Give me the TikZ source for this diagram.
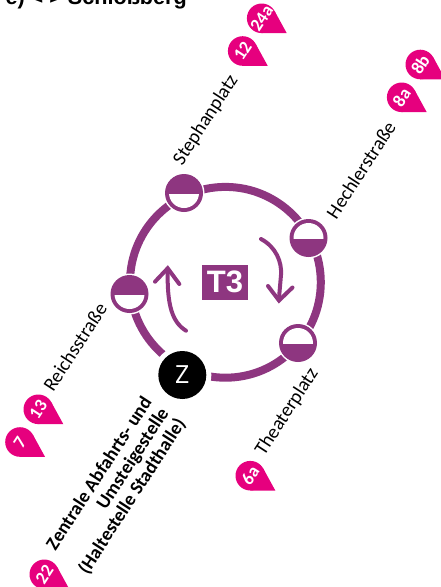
\documentclass[tikz,border=0pt]{standalone}
\usepackage{fontspec}
\setmainfont{Carlito}
\newfontfamily\heavyfont{Liberation Sans}
\newfontfamily\zfont{Open Sans}
\definecolor{linepurple}{HTML}{8E3680}
\definecolor{pinpink}{HTML}{E6007E}
\tikzset{
  ring/.style={draw=linepurple,line width=8pt},
  turnarrow/.style={draw=linepurple,line width=4pt,line cap=round,line join=miter},
  stoplabel/.style={rotate=57,inner sep=0pt,font=\fontsize{19.5}{20}\selectfont,text=black},
  pintext/.style={rotate=57,inner sep=0pt,font=\fontsize{18}{18}\selectfont\bfseries,text=white},
  zonelabel/.style={rotate=57,inner sep=0pt,anchor=east,align=right,font=\fontsize{19}{20}\selectfont\bfseries,text=black},
  pics/pin/.style={code={
    \fill[pinpink] (0,0) circle[radius=14.8];
    \fill[pinpink] (0,14.8) -- (25,14.8) -- (13,-7.1) -- (0,0) -- cycle;
    \node[pintext] at (0,0) {#1};
  }},
  pics/stopup/.style={code={
    \fill[white] (0,0) circle[radius=20.5];
    \fill[linepurple] (0,0) circle[radius=19];
    \begin{scope}
      \clip (-20,1) rectangle (20,20);
      \fill[white] (0,0) circle[radius=15];
    \end{scope}
  }},
  pics/stopdown/.style={code={
    \fill[white] (0,0) circle[radius=20.5];
    \fill[linepurple] (0,0) circle[radius=19];
    \begin{scope}
      \clip (-20,-20) rectangle (20,0);
      \fill[white] (0,0) circle[radius=15];
    \end{scope}
  }},
}
\begin{document}
\begin{tikzpicture}[x=1pt,y=-1pt]
\useasboundingbox (0,0) rectangle (441,587);
\clip (0,0) rectangle (441,587);
\node[anchor=base east,inner sep=0pt,font=\heavyfont\fontsize{21.6}{24}\selectfont\bfseries] (title) at (187,4.5) {e) < > Schloßberg};
\draw[ring] (225.4,282.3) circle[radius=95.4];
\pic at (184,193) {stopup};
\pic at (308.5,238) {stopdown};
\pic at (298,343) {stopdown};
\pic at (129.5,294) {stopup};
\fill[white] (182.3,375) circle[radius=29];
\node[circle,fill=black,minimum size=48pt,inner sep=0pt,text=white,font=\zfont\fontsize{25}{25}\selectfont] (z) at (182.3,375) {Z};
\node[fill=linepurple,minimum width=45.7pt,minimum height=34.7pt,inner sep=0pt,text=white,font=\heavyfont\fontsize{31}{31}\selectfont\bfseries] (t3) at (224.9,282.3) {T3};
\draw[turnarrow] (261,239) .. controls (276,247) and (282,262) .. (281,275) -- (279,298);
\draw[turnarrow] (268,286) -- (279,300.5) -- (292.5,287.5);
\draw[turnarrow] (186,330.7) .. controls (172,322) and (167,305) .. (167.7,270);
\draw[turnarrow] (155,281.7) -- (167.7,268.3) -- (179.3,284);
\node[stoplabel] (stephan) at (206,120) {Stephanplatz};
\node[stoplabel] (hechler) at (361,170) {Hechlerstraße};
\node[stoplabel] (reichs) at (75,347) {Reichsstraße};
\node[stoplabel] (theater) at (287,412) {Theaterplatz};
\node[zonelabel] (zentral) at (165,410) {Zentrale Abfahrts- und\\Umsteigestelle\\(Haltestelle Stadthalle)};
\pic at (261.7,18.3) {pin={24a}};
\pic at (242.7,51) {pin={12}};
\pic at (420.3,64.5) {pin={8b}};
\pic at (401.7,97.3) {pin={8a}};
\pic at (38.3,409.3) {pin={13}};
\pic at (20,442) {pin={7}};
\pic at (44.3,574.3) {pin={22}};
\pic at (250.3,475.7) {pin={6a}};
\end{tikzpicture}
\end{document}
